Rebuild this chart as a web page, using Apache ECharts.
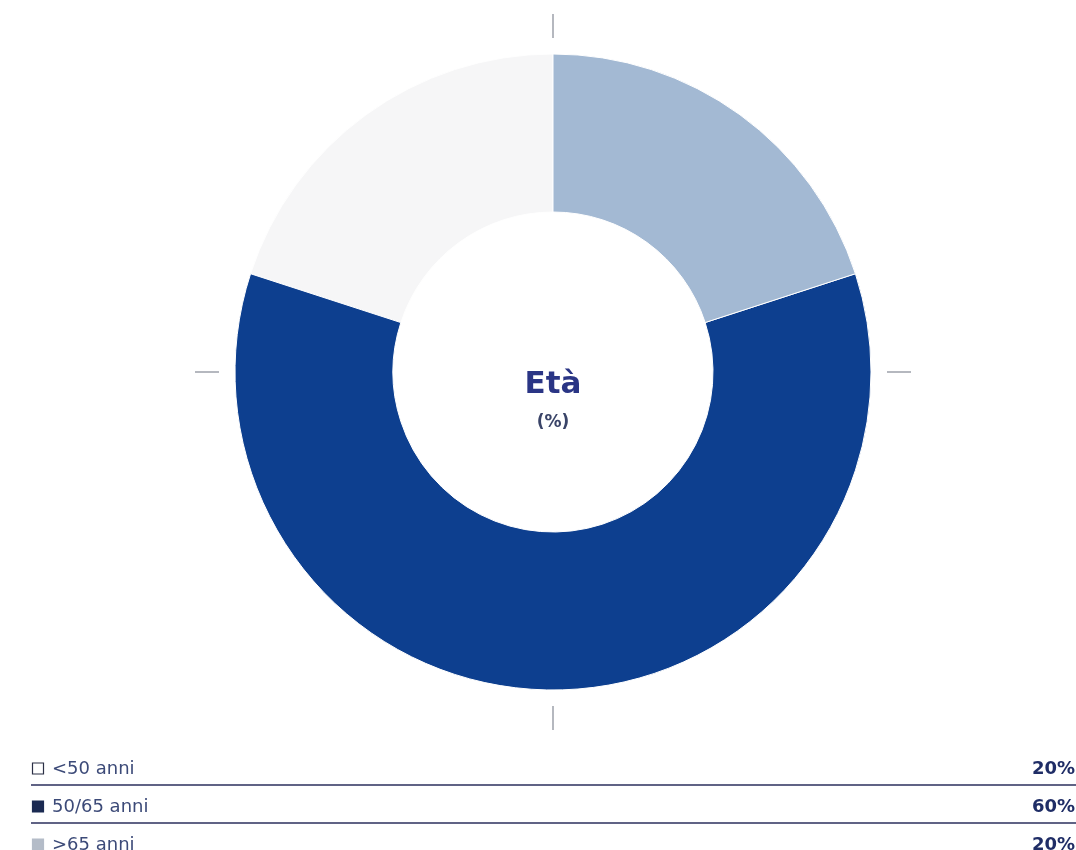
<!DOCTYPE html>
<html>
<head>
<meta charset="utf-8">
<script src="https://cdn.jsdelivr.net/npm/echarts@6/dist/echarts.min.js"></script>
<style>
  html, body { margin: 0; padding: 0; background: #ffffff; }
  #chart { width: 1076px; height: 850px; }
</style>
</head>
<body>
<div id="chart"></div>
<script>
// Age groups and their shares (%)
const categories = ['<50 anni', '50/65 anni', '>65 anni'];
const values = [20, 60, 20];
const valueLabels = ['20%', '60%', '20%'];

const sliceColors = ['#f6f6f7', '#0d3f8f', '#a3b9d3'];
const markerFill = ['#ffffff', '#1b2a52', '#b4bcc8'];
const markerStroke = ['#2a2f45', '#1b2a52', '#b4bcc8'];

const cx = 553, cy = 372;

const chart = echarts.init(document.getElementById('chart'), null, { renderer: 'canvas' });

// Legend table under the donut
const rowCenters = [769, 807, 845];
const separators = [785, 823];
const table = [];
categories.forEach(function (name, i) {
  table.push({
    type: 'rect',
    shape: { x: 32.5, y: rowCenters[i] - 6, width: 11, height: 11 },
    style: { fill: markerFill[i], stroke: markerStroke[i], lineWidth: 1.2 }
  });
  table.push({
    type: 'text',
    x: 52, y: rowCenters[i],
    style: {
      text: name, fill: '#3c4a78',
      font: '18px "DejaVu Sans", sans-serif',
      textVerticalAlign: 'middle', textAlign: 'left'
    }
  });
  table.push({
    type: 'text',
    x: 1075, y: rowCenters[i],
    style: {
      text: valueLabels[i], fill: '#1f2d66',
      font: 'bold 18px "DejaVu Sans", sans-serif',
      textVerticalAlign: 'middle', textAlign: 'right'
    }
  });
});
separators.forEach(function (y) {
  table.push({
    type: 'line',
    shape: { x1: 31, y1: y, x2: 1076, y2: y },
    style: { stroke: '#2b2f5c', lineWidth: 1.5 }
  });
});

// Title in the hole of the donut
table.push({
  type: 'text', x: cx, y: 385,
  style: {
    text: 'Età', fill: '#2a3585',
    font: 'bold 31px "DejaVu Sans", sans-serif',
    textAlign: 'center', textVerticalAlign: 'middle'
  }
});
table.push({
  type: 'text', x: cx, y: 423,
  style: {
    text: '(%)', fill: '#3a4468',
    font: 'bold 17px "DejaVu Sans", sans-serif',
    textAlign: 'center', textVerticalAlign: 'middle'
  }
});

chart.setOption({
  animation: false,
  backgroundColor: '#ffffff',
  graphic: table,
  series: [
    {
      // quarter ticks around the ring
      type: 'gauge',
      center: [cx, cy],
      radius: 358,
      startAngle: 90,
      endAngle: -270,
      min: 0, max: 100,
      splitNumber: 4,
      axisLine: { show: false, lineStyle: { width: 0 } },
      axisTick: { show: false },
      axisLabel: { show: false },
      splitLine: { show: true, length: 24, distance: 0, lineStyle: { color: '#b5b8bf', width: 2 } },
      pointer: { show: false },
      anchor: { show: false },
      title: { show: false },
      detail: { show: false },
      data: []
    },
    {
      type: 'pie',
      center: [cx, cy],
      radius: [160, 318],
      startAngle: 90,
      clockwise: false,
      silent: true,
      label: { show: false },
      labelLine: { show: false },
      itemStyle: { borderColor: '#ffffff', borderWidth: 1 },
      data: categories.map(function (name, i) {
        return { name: name, value: values[i], itemStyle: { color: sliceColors[i] } };
      })
    }
  ]
});
</script>
</body>
</html>
